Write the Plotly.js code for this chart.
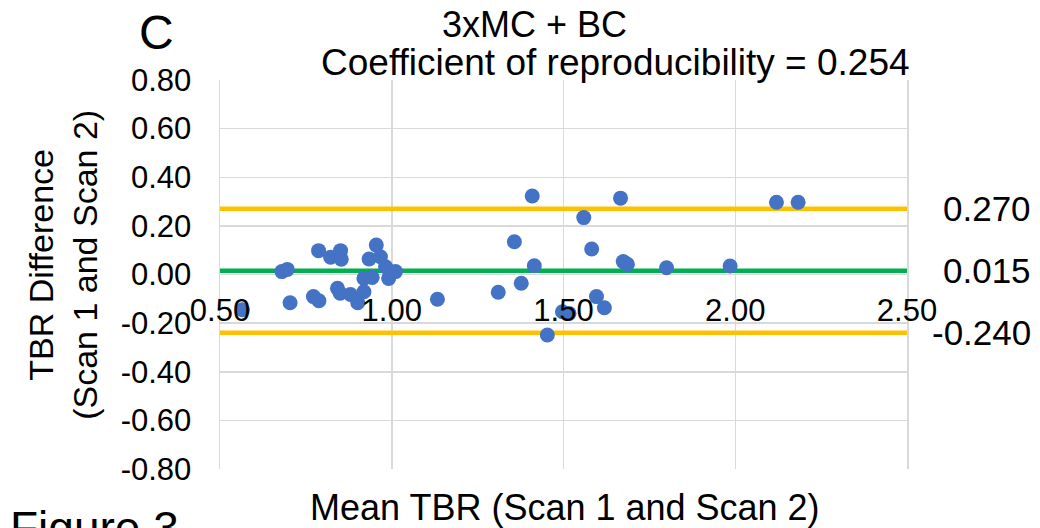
<!DOCTYPE html>
<html>
<head>
<meta charset="utf-8">
<script src="https://cdn.plot.ly/plotly-3.0.1.min.js"></script>
<style>html,body{margin:0;padding:0;background:#fff;}#chart{width:1040px;height:528px;}</style>
</head>
<body>
<div id="chart"></div>
<script>
// ---- data ----
const meanTBR = [0.565, 0.680, 0.696, 0.704, 0.772, 0.787, 0.788, 0.822, 0.842, 0.850, 0.851, 0.853, 0.880, 0.901, 0.919, 0.919, 0.934, 0.943, 0.955, 0.967, 0.982, 0.991, 0.997, 1.011, 1.133, 1.310, 1.357, 1.377, 1.409, 1.415, 1.453, 1.497, 1.516, 1.559, 1.582, 1.596, 1.619, 1.666, 1.674, 1.686, 1.800, 1.985, 2.120, 2.183];
const diffTBR = [-0.145, 0.012, 0.021, -0.116, -0.091, 0.098, -0.108, 0.071, -0.057, -0.077, 0.098, 0.063, -0.082, -0.116, -0.071, -0.016, 0.064, -0.012, 0.121, 0.073, 0.032, -0.016, 0.005, 0.012, -0.102, -0.073, 0.135, -0.036, 0.323, 0.036, -0.249, -0.153, -0.160, 0.234, 0.105, -0.091, -0.137, 0.314, 0.053, 0.042, 0.028, 0.035, 0.297, 0.297];
const limitValues = [0.270, 0.015, -0.240];   // upper LoA, mean bias, lower LoA
const limitColors = ['#FFC000', '#00B050', '#FFC000'];
const xRange = [0.5, 2.5];
const yRange = [-0.8, 0.8];
const xTickVals = [0.5, 1.0, 1.5, 2.0, 2.5];
const xTickText = ['0.50', '1.00', '1.50', '2.00', '2.50'];
const yTickVals = [-0.8, -0.6, -0.4, -0.2, 0, 0.2, 0.4, 0.6, 0.8];
const yTickText = ['-0.80', '-0.60', '-0.40', '-0.20', '0.00', '0.20', '0.40', '0.60', '0.80'];
const titleLine1 = '3xMC + BC';
const titleLine2 = 'Coefficient of reproducibility = 0.254';

const FONT = 'Liberation Sans, Arial, sans-serif';

const traces = [];
limitValues.forEach((v, i) => {
  traces.push({
    x: xRange, y: [v, v], mode: 'lines', type: 'scatter',
    line: {color: limitColors[i], width: 4.5}, hoverinfo: 'skip', showlegend: false
  });
});
traces.push({
  x: meanTBR, y: diffTBR, mode: 'markers', type: 'scatter',
  marker: {color: '#4472C4', size: 15}, showlegend: false, cliponaxis: false
});

const annotations = [
  {text: 'C', xref: 'paper', yref: 'paper', x: -0.0924, y: 1.122, xanchor: 'center', yanchor: 'middle', showarrow: false, font: {family: FONT, size: 48, color: '#000'}},
  {text: titleLine1, xref: 'paper', yref: 'paper', x: 0.4585, y: 1.1427, xanchor: 'center', yanchor: 'middle', showarrow: false, font: {family: FONT, size: 36, color: '#000'}},
  {text: titleLine2, xref: 'paper', yref: 'paper', x: 0.5764, y: 1.046, xanchor: 'center', yanchor: 'middle', showarrow: false, font: {family: FONT, size: 37, color: '#000'}},
  {text: 'TBR Difference<br>(Scan 1 and Scan 2)', textangle: -90, xref: 'paper', yref: 'paper', x: -0.229, y: 0.524, xanchor: 'center', yanchor: 'middle', showarrow: false, font: {family: FONT, size: 34, color: '#000'}},
  {text: 'Mean TBR (Scan 1 and Scan 2)', xref: 'paper', yref: 'paper', x: 0.502, y: -0.0977, xanchor: 'center', yanchor: 'middle', showarrow: false, font: {family: FONT, size: 36, color: '#000'}},
  {text: 'Figure 3', xref: 'paper', yref: 'paper', x: -0.309, y: -0.08, xanchor: 'left', yanchor: 'top', showarrow: false, font: {family: FONT, size: 46, color: '#000'}}
];
limitValues.forEach(v => {
  annotations.push({text: v.toFixed(3), xref: 'paper', yref: 'y', x: 1.184, y: v, xanchor: 'right', yanchor: 'middle', showarrow: false, font: {family: FONT, size: 35, color: '#000'}});
});

const layout = {
  width: 1040, height: 528,
  margin: {l: 220, r: 133, t: 80, b: 59, pad: 0},
  paper_bgcolor: '#fff', plot_bgcolor: '#fff',
  showlegend: false,
  xaxis: {
    range: xRange, tickvals: xTickVals, ticktext: xTickText,
    anchor: 'free', position: 0.5,
    showgrid: true, gridcolor: '#D9D9D9', gridwidth: 1.5,
    zeroline: false, showline: false, ticks: '', ticklabelstandoff: 14,
    tickfont: {family: FONT, size: 31, color: '#000'}
  },
  yaxis: {
    range: yRange, tickvals: yTickVals, ticktext: yTickText,
    showgrid: true, gridcolor: '#D9D9D9', gridwidth: 1.5,
    zeroline: false, showline: true, mirror: true, linecolor: '#D9D9D9', linewidth: 1.5,
    ticks: '', ticklabelstandoff: 21,
    tickfont: {family: FONT, size: 31, color: '#000'}
  },
  annotations: annotations
};

Plotly.newPlot('chart', traces, layout, {displayModeBar: false, staticPlot: true});
</script>
</body>
</html>
